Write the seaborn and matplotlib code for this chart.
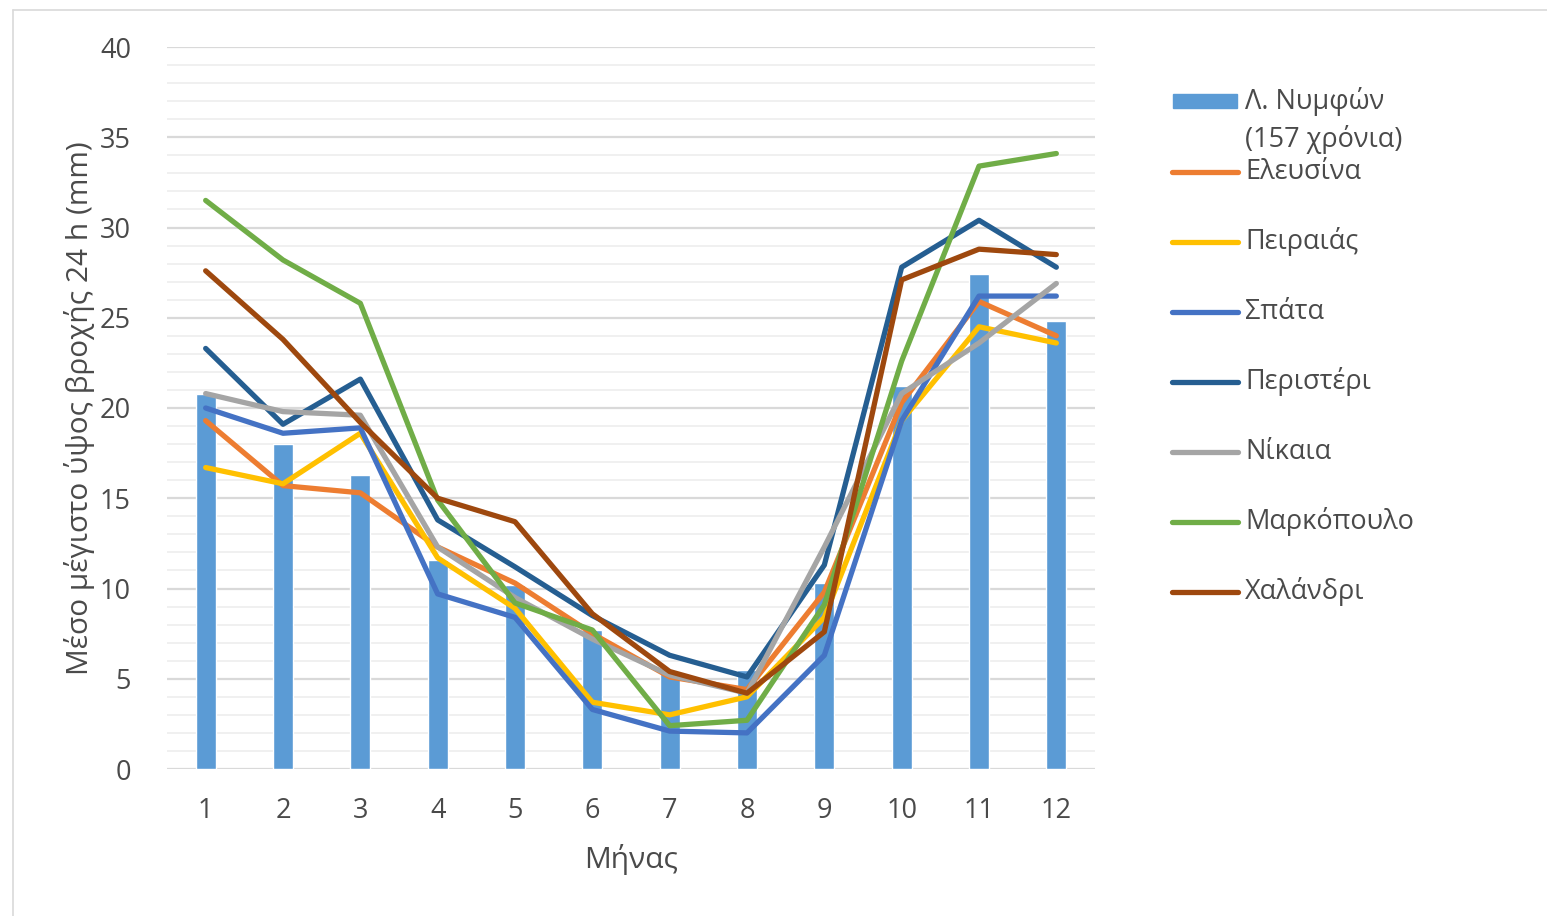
import pandas as pd
import matplotlib
matplotlib.use("Agg")
import matplotlib.pyplot as plt
from matplotlib.lines import Line2D
from matplotlib.patches import Rectangle
import seaborn as sns

# ---------------- δεδομένα ----------------
months = [1, 2, 3, 4, 5, 6, 7, 8, 9, 10, 11, 12]
lake_nymfon = [20.8, 18.0, 16.3, 11.6, 10.2, 7.7, 5.3, 5.5, 10.3, 21.2, 27.4, 24.8]
elefsina = [19.3, 15.7, 15.3, 12.3, 10.3, 7.5, 5.1, 4.4, 9.8, 20.3, 25.9, 24.0]
peiraias = [16.7, 15.8, 18.6, 11.7, 8.9, 3.7, 3.0, 4.0, 8.4, 19.3, 24.5, 23.6]
spata = [20.0, 18.6, 18.9, 9.7, 8.4, 3.3, 2.1, 2.0, 6.3, 19.3, 26.2, 26.2]
peristeri = [23.3, 19.1, 21.6, 13.8, 11.2, 8.5, 6.3, 5.1, 11.3, 27.8, 30.4, 27.8]
nikaia = [20.8, 19.8, 19.6, 12.3, 9.5, 7.2, 5.2, 4.2, 12.3, 20.8, 23.6, 26.9]
markopoulo = [31.5, 28.2, 25.8, 14.9, 9.2, 7.7, 2.4, 2.7, 9.1, 22.6, 33.4, 34.1]
chalandri = [27.6, 23.8, 19.2, 15.0, 13.7, 8.6, 5.4, 4.2, 7.6, 27.1, 28.8, 28.5]

bar_label = "Λ. Νυμφών\n(157 χρόνια)"
stations = ["Ελευσίνα", "Πειραιάς", "Σπάτα", "Περιστέρι", "Νίκαια", "Μαρκόπουλο", "Χαλάνδρι"]
series = [elefsina, peiraias, spata, peristeri, nikaia, markopoulo, chalandri]
colors = ["#ED7D31", "#FFC000", "#4472C4", "#255E91", "#A5A5A5", "#70AD47", "#9E480E"]
bar_color = "#5B9BD5"
text_color = "#4A4A4A"

df_bar = pd.DataFrame({"month": months, "value": lake_nymfon})
df_lines = pd.concat(
    [pd.DataFrame({"month": months, "value": v, "station": s}) for s, v in zip(stations, series)],
    ignore_index=True,
)

# ---------------- στυλ ----------------
sns.set_style("white")
plt.rcParams["font.family"] = ["Open Sans", "DejaVu Sans"]
plt.rcParams["text.color"] = text_color
plt.rcParams["axes.labelcolor"] = text_color
plt.rcParams["xtick.color"] = text_color
plt.rcParams["ytick.color"] = text_color

W, H = 1547, 916
fig = plt.figure(figsize=(W / 100, H / 100), dpi=100)
ax = fig.add_axes([167 / W, 1 - 769 / H, (1095 - 167) / W, (769 - 47) / H])

# πλέγμα
for v in range(0, 41):
    if v % 5 == 0:
        ax.axhline(v, color="#D9D9D9", lw=1.6, zorder=0)
    else:
        ax.axhline(v, color="#EEEEEE", lw=1.2, zorder=0)

sns.barplot(data=df_bar, x="month", y="value", native_scale=True, color=bar_color,
            width=0.26, saturation=1, ax=ax, zorder=2)
sns.lineplot(data=df_lines, x="month", y="value", hue="station", hue_order=stations,
             palette=colors, linewidth=3.8, legend=False, ax=ax, zorder=3,
             solid_capstyle="round", solid_joinstyle="round")

ax.set_xlim(0.5, 12.5)
ax.set_ylim(0, 40)
ax.set_xticks(months)
ax.set_xticklabels([str(m) for m in months])
ax.set_yticks(range(0, 41, 5))
ax.tick_params(axis="both", length=0, labelsize=19.5)
ax.tick_params(axis="x", pad=20)
ax.tick_params(axis="y", pad=26)
sns.despine(ax=ax, left=True, bottom=True, top=True, right=True)

ax.set_xlabel("Μήνας", fontsize=21.5, labelpad=14)
ax.set_ylabel("Μέσο μέγιστο ύψος βροχής 24 h (mm)", fontsize=21.5, labelpad=3.5)

# ---------------- υπόμνημα ----------------
def fx(px):
    return px / W

def fy(py):
    return 1 - py / H

leg_fs = 19.5
fig.add_artist(Rectangle((fx(1173), fy(108)), fx(1237) - fx(1173), fy(94) - fy(108),
                         transform=fig.transFigure, color=bar_color))
fig.text(fx(1245), fy(101), bar_label.split("\n")[0], fontsize=leg_fs, va="center")
fig.text(fx(1245), fy(140), bar_label.split("\n")[1], fontsize=leg_fs, va="center")

leg_y = [172, 242, 312, 382, 452, 522, 592]
for s, c, yy in zip(stations, colors, leg_y):
    fig.add_artist(Line2D([fx(1172), fx(1238)], [fy(yy), fy(yy)], transform=fig.transFigure,
                          color=c, lw=3.8, solid_capstyle="round"))
    fig.text(fx(1245), fy(yy), s, fontsize=leg_fs, va="center")

# πλαίσιο γραφήματος
fig.add_artist(Line2D([fx(13), 1], [fy(10), fy(10)], transform=fig.transFigure, color="#D9D9D9", lw=1.2))
fig.add_artist(Line2D([fx(13), fx(13)], [fy(10), 0], transform=fig.transFigure, color="#D9D9D9", lw=1.2))

fig.savefig("out.png", dpi=100, facecolor="white")
